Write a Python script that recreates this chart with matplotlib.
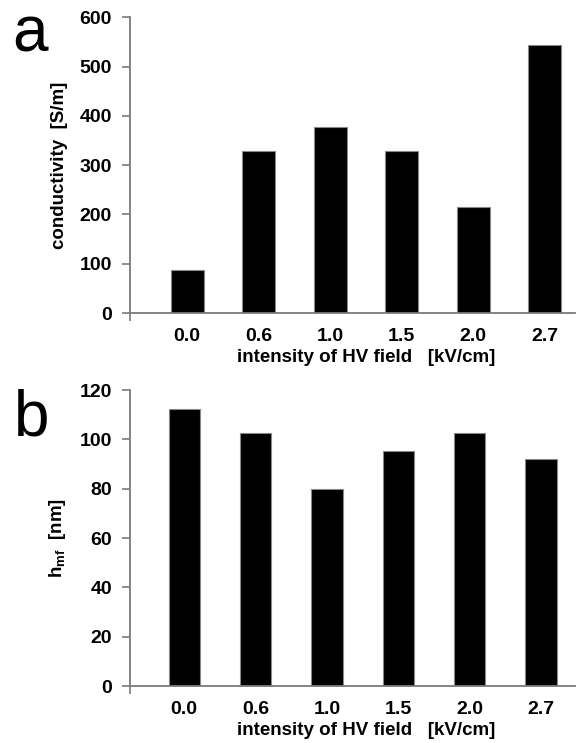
import matplotlib
matplotlib.use("Agg")
import matplotlib.pyplot as plt

plt.rcParams['font.family'] = ['Liberation Sans', 'DejaVu Sans']
plt.rcParams['mathtext.fontset'] = 'custom'
plt.rcParams['mathtext.rm'] = 'Liberation Sans:bold'
plt.rcParams['mathtext.it'] = 'Liberation Sans:bold'

fields = ['0.0', '0.6', '1.0', '1.5', '2.0', '2.7']
conductivity = [88, 329, 377, 328, 216, 543]
h_mf = [112.3, 102.5, 80, 95.3, 102.5, 92]

AXIS_GREY = '#7a7a7a'
XLABEL = 'intensity of HV field   [kV/cm]'


def style_axes(ax, ymax, ystep, xlim):
    ax.set_xlim(*xlim)
    ax.set_ylim(0, ymax)
    ax.set_yticks(range(0, ymax + 1, ystep))
    ax.set_xticks(range(len(fields)))
    ax.set_xticklabels(fields)
    for s in ('top', 'right'):
        ax.spines[s].set_visible(False)
    for s in ('left', 'bottom'):
        ax.spines[s].set_color(AXIS_GREY)
        ax.spines[s].set_linewidth(1.3)
    ax.tick_params(axis='y', length=6, width=1.2, color=AXIS_GREY,
                   direction='out', pad=7, labelsize=14)
    ax.tick_params(axis='x', which='major', length=0, pad=11, labelsize=14)
    ax.set_xticks([xlim[0]], minor=True)
    ax.tick_params(axis='x', which='minor', length=6, width=1.2,
                   color=AXIS_GREY, direction='out')
    for lab in ax.get_xticklabels() + ax.get_yticklabels():
        lab.set_fontweight('bold')
    ax.set_xlabel(XLABEL, fontsize=13.5, fontweight='bold', labelpad=3)
    ax.xaxis.label.set_x(0.53)


fig = plt.figure(figsize=(5.76, 7.43), dpi=100)

# panel a
ax1 = fig.add_axes([0.2257, 0.5787, 0.772, 0.398])
ax1.bar(range(len(fields)), conductivity, width=0.46, color='black',
        edgecolor='#888888', linewidth=0.8)
style_axes(ax1, 600, 100, (-0.80, 5.42))
ax1.set_ylabel('conductivity  [S/m]', fontsize=13.5, fontweight='bold', labelpad=8)

# panel b
ax2 = fig.add_axes([0.2257, 0.0767, 0.772, 0.3984])
ax2.bar(range(len(fields)), h_mf, width=0.44, color='black',
        edgecolor='#888888', linewidth=0.8)
style_axes(ax2, 120, 20, (-0.76, 5.47))
ax2.set_ylabel(r'h$_{\mathrm{mf}}$  [nm]', fontsize=13.5, fontweight='bold', labelpad=8)

fig.text(12 / 576, 1 - 52 / 743, 'a', fontsize=46, ha='left', va='baseline')
fig.text(14 / 576, 1 - 436 / 743, 'b', fontsize=46, ha='left', va='baseline')

fig.savefig('out.png', dpi=100)
